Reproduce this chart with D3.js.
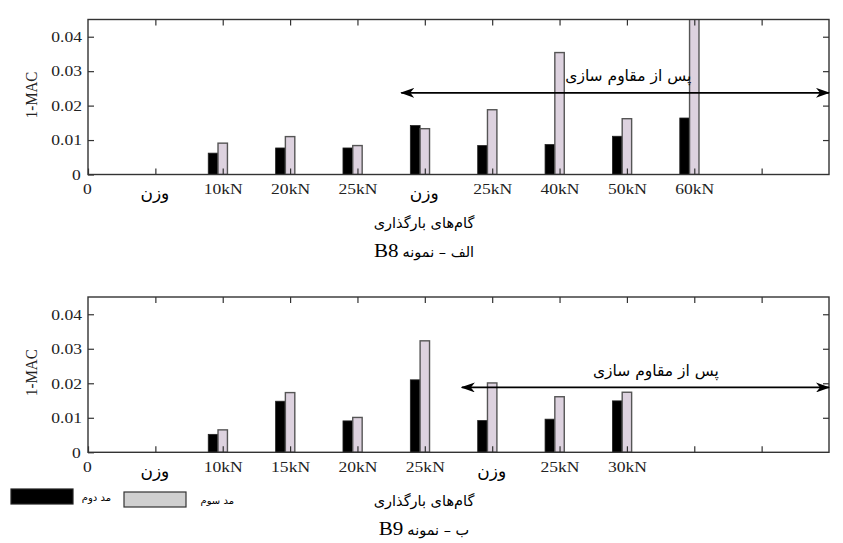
<!DOCTYPE html>
<html><head><meta charset="utf-8">
<script src="https://cdn.jsdelivr.net/npm/d3@7"></script>
<style>body{margin:0;background:#fff}svg{display:block}</style>
</head><body>
<svg id="c" width="843" height="543"></svg>
<script>
// ---- data ----
const catsB8 = ["وزن","10kN","20kN","25kN","وزن","25kN","40kN","50kN","60kN"];
const mode2B8 = [0, 0.0062, 0.0077, 0.0077, 0.0142, 0.0084, 0.0087, 0.0111, 0.0164];
const mode3B8 = [0, 0.0091, 0.0110, 0.0084, 0.0133, 0.0188, 0.0354, 0.0162, 0.0500];
const catsB9 = ["وزن","10kN","15kN","20kN","25kN","وزن","25kN","30kN"];
const mode2B9 = [0, 0.0052, 0.0148, 0.0091, 0.0210, 0.0092, 0.0096, 0.0149];
const mode3B9 = [0, 0.0065, 0.0173, 0.0101, 0.0323, 0.0201, 0.0161, 0.0174];
const yTicks = [0, 0.01, 0.02, 0.03, 0.04];
const yTickLabels = ["0", "0.01", "0.02", "0.03", "0.04"];
const xTicks = [0,1,2,3,4,5,6,7,8,9,10];
const seriesNames = ["مد دوم", "مد سوم"];
const yLabel = "1-MAC";
const xTitle = "گام‌های بارگذاری";
const captionB8 = ["الف – نمونه", "B8"];
const captionB9 = ["ب – نمونه", "B9"];
const arrowText = "پس از مقاوم سازی";
// arrow annotations in data units [xStart, xEnd, y]
const arrowB8 = [4.65, 11, 0.0237];
const arrowB9 = [5.55, 11, 0.0188];

const svg = d3.select("#c");
const serif = "'Liberation Serif','Times New Roman',serif";
const fa = "'DejaVu Sans',sans-serif";
const SX = 1.17;

const defs = svg.append("defs");
defs.append("marker").attr("id","ah").attr("viewBox","0 0 14 10").attr("refX",13).attr("refY",5)
  .attr("markerWidth",14).attr("markerHeight",10).attr("markerUnits","userSpaceOnUse").attr("orient","auto-start-reverse")
  .append("path").attr("d","M0,0 L14,5 L0,10 L4,5 Z").attr("fill","#000");

function panel(cfg){
  const x = d3.scaleLinear().domain([0,11]).range([88,829]);
  const y = d3.scaleLinear().domain([0,0.045]).range([cfg.y0, cfg.y1]);
  const g = svg.append("g");
  const cid = "clip"+cfg.id;
  defs.append("clipPath").attr("id",cid).append("rect")
    .attr("x",x(0)).attr("y",y(0.045)).attr("width",x(11)-x(0)).attr("height",y(0)-y(0.045));

  const bars = g.append("g").attr("clip-path",`url(#${cid})`);
  const idx = cfg.cats.map((c,i)=>i);
  bars.selectAll("rect.m2").data(idx.filter(i=>cfg.m2[i]>0)).join("rect").attr("class","m2")
    .attr("x",i=>x(i+1-0.215)).attr("width",x(0.145)-x(0))
    .attr("y",i=>y(cfg.m2[i])).attr("height",i=>y(0)-y(cfg.m2[i]))
    .attr("fill","#000").attr("stroke","#222").attr("stroke-width",0.8);
  bars.selectAll("rect.m3").data(idx.filter(i=>cfg.m3[i]>0)).join("rect").attr("class","m3")
    .attr("x",i=>x(i+1-0.07)).attr("width",x(0.14)-x(0))
    .attr("y",i=>y(cfg.m3[i])).attr("height",i=>y(0)-y(cfg.m3[i]))
    .attr("fill","#ddd2df").attr("stroke","#555").attr("stroke-width",1.4);

  // axes
  const ax = g.append("g");
  ax.append("g").attr("transform",`translate(0,${y(0)})`)
    .call(d3.axisBottom(x).tickValues(xTicks).tickSizeInner(-6).tickSizeOuter(0).tickPadding(9)
      .tickFormat(d => d===0 ? "0" : (cfg.cats[d-1]||"")))
    .call(s=>s.select(".domain").remove());
  ax.append("g").attr("transform",`translate(0,${y(0.045)})`)
    .call(d3.axisTop(x).tickValues(xTicks.slice(1)).tickSizeInner(-6).tickSizeOuter(0).tickFormat(""))
    .call(s=>s.select(".domain").remove());
  ax.append("g").attr("transform",`translate(${x(0)},0)`)
    .call(d3.axisLeft(y).tickValues(yTicks).tickSizeInner(-6).tickSizeOuter(0).tickPadding(6)
      .tickFormat((d,i)=>yTickLabels[i]))
    .call(s=>s.select(".domain").remove());
  ax.append("g").attr("transform",`translate(${x(11)},0)`)
    .call(d3.axisRight(y).tickValues(yTicks.slice(1)).tickSizeInner(-6).tickSizeOuter(0).tickFormat(""))
    .call(s=>s.select(".domain").remove());
  ax.selectAll(".tick line").attr("stroke","#333").attr("stroke-width",1.2);
  ax.selectAll(".tick text").each(function(){
    const t = d3.select(this);
    const txt = t.text();
    if (/[\u0600-\u06FF]/.test(txt)) {
      t.attr("font-family",fa).attr("font-size",17).attr("fill","#000").attr("dx",-1).attr("dy","0.9em");
    } else {
      t.attr("font-family",serif).attr("font-size",15).attr("fill","#222");
      const xx = +t.attr("x")||0;
      t.attr("x", xx/SX).attr("transform",`scale(${SX},1)`);
    }
  });
  ax.selectAll(".tick").filter(d=>d===0).select("text").attr("dx",-1);
  // frame
  g.append("rect").attr("x",x(0)).attr("y",y(0.045)).attr("width",x(11)-x(0)).attr("height",y(0)-y(0.045))
    .attr("fill","none").attr("stroke","#333").attr("stroke-width",1.4);

  // y label
  g.append("text").attr("transform",`translate(37,${(y(0)+y(0.045))/2 - 2}) scale(${SX},1) rotate(-90)`)
    .attr("text-anchor","middle").attr("font-family",serif).attr("font-size",15).attr("fill","#222").text(yLabel);

  // arrow + text
  const a = cfg.arrow;
  g.append("line").attr("x1",x(a[0])).attr("x2",x(a[1])).attr("y1",y(a[2])).attr("y2",y(a[2]))
    .attr("stroke","#000").attr("stroke-width",1.6)
    .attr("marker-start","url(#ah)").attr("marker-end","url(#ah)");
  g.append("text").attr("x",x(cfg.atx)).attr("y",y(cfg.aty)).attr("text-anchor","middle").attr("dominant-baseline","middle")
    .attr("font-family",fa).attr("font-size",15.5).attr("fill","#000").attr("direction","rtl").text(arrowText);

  // captions
  g.append("text").attr("x",cfg.capX).attr("y",cfg.cap1Y).attr("text-anchor","middle")
    .attr("font-family",fa).attr("font-size",14.5).attr("direction","rtl").text(xTitle);
  // caption: specimen code (serif) on the left, Persian part on its right, centred as a whole
  const cap = g.append("g");
  const t2 = cap.append("text").attr("text-anchor","start").attr("font-family",serif).attr("font-size",18)
    .text(cfg.caption[1]);
  const t1 = cap.append("text").attr("text-anchor","start").attr("font-family",fa).attr("font-size",14.5)
    .attr("direction","ltr").text(cfg.caption[0]);
  const w1 = t1.node().getComputedTextLength();
  const w2 = t2.node().getComputedTextLength()*SX;
  const gap = 4;
  const total = w1 + gap + w2;
  const left = cfg.capX - total/2;
  t2.attr("transform",`translate(${left},${cfg.cap2Y}) scale(${SX},1)`);
  t1.attr("x", left + w2 + gap).attr("y", cfg.cap2Y);
}

panel({id:"a", cats:catsB8, m2:mode2B8, m3:mode3B8, y0:174.5, y1:19.5, arrow:arrowB8, atx:8.02, aty:0.0284,
  capX:424, cap1Y:228, cap2Y:257, caption:captionB8});
panel({id:"b", cats:catsB9, m2:mode2B9, m3:mode3B9, y0:452.3, y1:297, arrow:arrowB9, atx:8.43, aty:0.0234,
  capX:424, cap1Y:506, cap2Y:535, caption:captionB9});

// legend
const lg = svg.append("g");
const legColors = [["#000","#222"],["#d0d0d0","#333"]];
const legX = [11, 124];
const legY = [489, 492];
seriesNames.forEach((n,i)=>{
  lg.append("rect").attr("x",legX[i]).attr("y",legY[i]).attr("width",62).attr("height",15)
    .attr("fill",legColors[i][0]).attr("stroke",legColors[i][1]).attr("stroke-width",1.2);
  lg.append("text").attr("x",legX[i]+62+(i===0?38:48)).attr("y",legY[i]+9).attr("text-anchor","end")
    .attr("dominant-baseline","middle").attr("font-family",fa).attr("font-size",10).attr("direction","ltr").text(n);
});
</script>
</body></html>
